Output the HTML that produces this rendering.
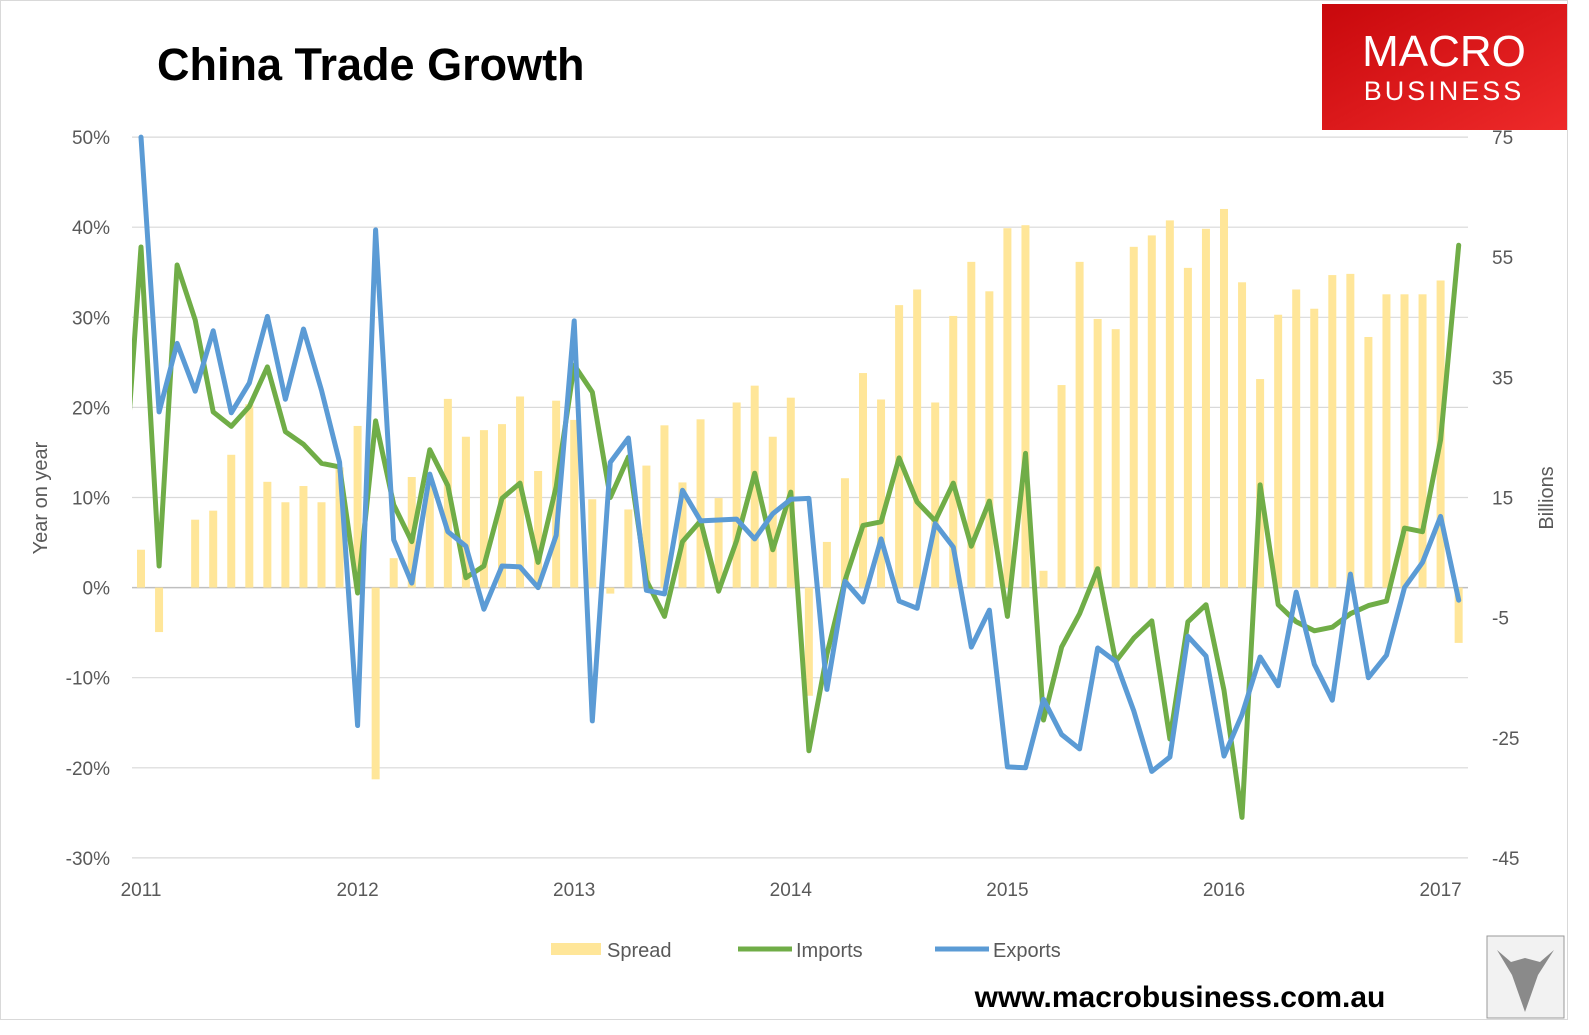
<!DOCTYPE html>
<html><head><meta charset="utf-8"><style>
html,body{margin:0;padding:0;background:#fff;}
svg{display:block;font-family:"Liberation Sans",sans-serif;}
</style></head><body>
<svg id="chart" width="1589" height="1035" viewBox="0 0 1589 1035" xmlns="http://www.w3.org/2000/svg">
<rect x="0.5" y="0.5" width="1567" height="1019" fill="#fff" stroke="#d9d9d9"/>
<text x="157" y="80" font-size="45" font-weight="bold" fill="#000">China Trade Growth</text>
<g>
<defs><linearGradient id="lg" x1="0" y1="0" x2="1" y2="1"><stop offset="0" stop-color="#c8080c"/><stop offset="1" stop-color="#ee2a2a"/></linearGradient></defs>
<rect x="1322" y="4" width="245" height="126" fill="url(#lg)"/>
<text x="1444" y="66" font-size="44" fill="#fff" text-anchor="middle">MACRO</text>
<text x="1444" y="100" font-size="27" fill="#fff" text-anchor="middle" letter-spacing="3">BUSINESS</text>
</g>
<g id="grid"></g>
<g id="bars"></g>
<defs><clipPath id="pc"><rect x="132" y="134" width="1340" height="730"/></clipPath></defs>
<g id="lines" clip-path="url(#pc)"></g>
<g id="axes"></g>
<text transform="translate(47,498) rotate(-90)" font-size="20" fill="#595959" text-anchor="middle">Year on year</text>
<text transform="translate(1553,498) rotate(-90)" font-size="20" fill="#595959" text-anchor="middle">Billions</text>
<g>
<g><rect x="551" y="943" width="50" height="12" fill="#ffe699"/><text x="607" y="957" font-size="20" fill="#595959">Spread</text></g>
<g><line x1="738" y1="949" x2="792" y2="949" stroke="#70ad47" stroke-width="5"/><text x="796" y="957" font-size="20" fill="#595959">Imports</text></g>
<g><line x1="935" y1="949" x2="989" y2="949" stroke="#5b9bd5" stroke-width="5"/><text x="993" y="957" font-size="20" fill="#595959">Exports</text></g>
</g>
<text x="1180" y="1007" font-size="30" font-weight="bold" fill="#000" text-anchor="middle">www.macrobusiness.com.au</text>
<g><rect x="1487" y="936" width="77" height="82" fill="#f2f2f2" stroke="#999"/><path d="M1497 950 L1512 975 L1525 1012 L1538 975 L1554 950 L1540 962 L1525 958 L1511 962 Z" fill="#8a8a8a"/></g>
</svg>
<script>
const monthLabels=["2011","2012","2013","2014","2015","2016","2017"];
const leftTicks=[50,40,30,20,10,0,-10,-20,-30];
const rightTicks=[75,55,35,15,-5,-25,-45];
const exportsData=[50,19.5,27.1,21.8,28.5,19.4,22.7,30.1,20.9,28.7,21.9,13.9,-15.3,39.7,5.3,0.5,12.6,6.2,4.6,-2.4,2.4,2.3,0,5.8,29.6,-14.8,13.9,16.6,-0.3,-0.7,10.8,7.4,7.5,7.6,5.4,8.2,9.8,9.9,-11.3,0.7,-1.6,5.4,-1.5,-2.3,7.1,4.5,-6.6,-2.5,-19.9,-20.0,-12.4,-16.3,-17.9,-6.7,-8.2,-13.7,-20.4,-18.8,-5.4,-7.6,-18.7,-14.1,-7.7,-10.9,-0.5,-8.5,-12.5,1.5,-10.0,-7.5,0,2.8,7.9,-1.4];
const importsData=[9.4,37.8,2.4,35.8,29.7,19.5,17.9,20.1,24.5,17.3,15.9,13.8,13.4,-0.6,18.5,9.2,5.1,15.3,11.3,1.1,2.4,9.9,11.6,2.8,11.2,24.7,21.7,10.0,14.5,0.8,-3.2,5.1,7.4,-0.4,5.2,12.7,4.2,10.6,-18.1,-7.4,0.8,6.9,7.3,14.4,9.5,7.4,11.6,4.6,9.6,-3.2,14.9,-14.7,-6.6,-2.9,2.1,-8.2,-5.6,-3.7,-16.8,-3.8,-1.9,-11.4,-25.5,11.4,-1.9,-3.8,-4.8,-4.4,-2.9,-2.0,-1.5,6.6,6.2,16.4,38.0];
const spreadData=[6.3,-7.4,0,11.3,12.8,22.1,30.5,17.6,14.2,16.9,14.2,20,26.9,-31.9,4.9,18.4,17,31.4,25.1,26.2,27.2,31.8,19.4,31.1,27.9,14.7,-1.0,13,20.3,27.0,17.5,28.0,14.9,30.8,33.6,25.1,31.6,-18,7.6,18.2,35.7,31.3,47.0,49.6,30.8,45.2,54.2,49.3,59.8,60.3,2.8,33.7,54.2,44.7,43.0,56.7,58.6,61.1,53.2,59.7,63.0,50.8,34.7,45.4,49.6,46.4,52.0,52.2,41.7,48.8,48.8,48.8,51.1,-9.2];
const NS="http://www.w3.org/2000/svg";
const x=i=>141+18.05*i;
const yL=v=>587.6-v*9.01;
const yR=v=>587.6-v*6.01;
function mk(tag,attrs,parent){const e=document.createElementNS(NS,tag);for(const k in attrs)e.setAttribute(k,attrs[k]);parent.appendChild(e);return e;}
const grid=document.getElementById('grid'),axes=document.getElementById('axes'),bars=document.getElementById('bars'),lines=document.getElementById('lines');
leftTicks.forEach(t=>{
  const l=mk('line',{x1:132,x2:1468,y1:yL(t),y2:yL(t),stroke:t===0?'#bfbfbf':'#d9d9d9','stroke-width':t===0?1.5:1.2},grid);
  
  
  const tx=mk('text',{x:110,y:yL(t)+7,'font-size':19,fill:'#595959','text-anchor':'end'},axes);
  tx.textContent=t+'%';
  
  
});
rightTicks.forEach(t=>{
  const tx=mk('text',{x:1492,y:yR(t)+7,'font-size':19,fill:'#595959'},axes);
  tx.textContent=t;
  
  
});
monthLabels.forEach((m,k)=>{
  const tx=mk('text',{x:x(k*12),y:896,'font-size':19,fill:'#595959','text-anchor':'middle'},axes);
  tx.textContent=m;
  
  
});
spreadData.forEach((v,i)=>{
  const y0=yR(0),y1=yR(v);
  const r=mk('rect',{x:x(i)-4,y:Math.min(y0,y1),width:8,height:Math.abs(y1-y0),fill:'#ffe699'},bars);
  
  
});
const ip=importsData.map((v,i)=>x(i-1).toFixed(1)+','+yL(v).toFixed(1)).join(' ');
const pi=mk('polyline',{points:ip,fill:'none',stroke:'#70ad47','stroke-width':5,'stroke-linejoin':'round','stroke-linecap':'round'},lines);


const ep=exportsData.map((v,i)=>x(i).toFixed(1)+','+yL(v).toFixed(1)).join(' ');
const pe=mk('polyline',{points:ep,fill:'none',stroke:'#5b9bd5','stroke-width':5,'stroke-linejoin':'round','stroke-linecap':'round'},lines);


</script>
</body></html>
